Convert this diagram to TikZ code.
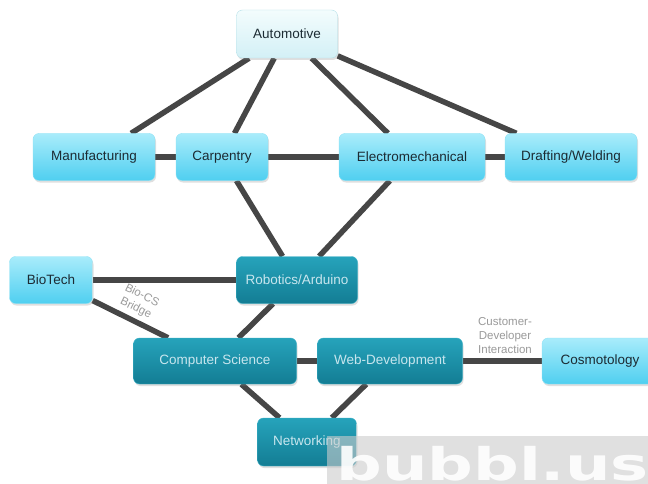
\documentclass[tikz,border=0pt]{standalone}
\usepackage{fontspec}
\setmainfont{Liberation Sans}
\newfontfamily\wmfont{DejaVu Sans}
\usetikzlibrary{shadows,backgrounds}
\definecolor{ltop}{HTML}{A9ECFB}
\definecolor{lbot}{HTML}{4FCFF0}
\definecolor{lbrd}{HTML}{8FE2F5}
\definecolor{atop}{HTML}{F3FCFD}
\definecolor{abot}{HTML}{D3F0F6}
\definecolor{abrd}{HTML}{B5E0E8}
\definecolor{dtop}{HTML}{26A3BB}
\definecolor{dbot}{HTML}{137D94}
\definecolor{dbrd}{HTML}{3FB3C8}
\definecolor{dtext}{HTML}{C8E6EE}
\definecolor{ltext}{HTML}{1C2B33}
\definecolor{edgec}{HTML}{464646}
\definecolor{lblc}{HTML}{9A9A9A}
\tikzset{
  box/.style={rounded corners=6pt, minimum height=47pt, inner sep=0pt,
    font=\fontsize{13.5}{15}\selectfont,
    drop shadow={opacity=0.25, shadow xshift=1pt, shadow yshift=-2pt}},
  lightbox/.style={box, top color=ltop, bottom color=lbot, draw=lbrd, text=ltext},
  autobox/.style={box, top color=atop, bottom color=abot, draw=abrd, text=ltext},
  darkbox/.style={box, top color=dtop, bottom color=dbot, draw=dbrd, text=dtext},
  conn/.style={line width=5.5pt, draw=edgec},
  lbl/.style={text=lblc, font=\fontsize{11.5}{14}\selectfont, align=center, inner sep=1pt}
}
\begin{document}
\begin{tikzpicture}[x=1pt, y=-1pt]
\useasboundingbox (0,0) rectangle (648,484);

\node[autobox, minimum width=101pt, minimum height=48pt] (auto) at (287,34) {Automotive};
\node[lightbox, minimum width=122pt] (manu) at (94,157) {Manufacturing};
\node[lightbox, minimum width=92pt] (carp) at (222,157) {Carpentry};
\node[lightbox, minimum width=146pt] (elec) at (412,157) {Electromechanical};
\node[lightbox, minimum width=132pt] (draf) at (571,157) {Drafting/Welding};
\node[lightbox, minimum width=83pt] (bio) at (51,280) {BioTech};
\node[darkbox, minimum width=121pt] (robo) at (297,280) {Robotics/Arduino};
\node[darkbox, minimum width=163pt, minimum height=46pt] (cs) at (215,361) {Computer Science};
\node[darkbox, minimum width=145pt, minimum height=46pt] (web) at (390,361) {Web-Development};
\node[lightbox, minimum width=116pt, minimum height=46pt] (cosm) at (600,361) {Cosmotology};
\node[darkbox, minimum width=99pt, minimum height=48pt] (net) at (307,442) {Networking};

\begin{scope}[on background layer]
\fill[white] (0,0) rectangle (648,484);
\draw[conn] (auto) -- (manu);
\draw[conn] (auto) -- (carp);
\draw[conn] (auto) -- (elec);
\draw[conn] (auto) -- (draf);
\draw[conn] (manu) -- (carp);
\draw[conn] (carp) -- (elec);
\draw[conn] (elec) -- (draf);
\draw[conn] (carp) -- (robo);
\draw[conn] (elec) -- (robo);
\draw[conn] (bio) -- (robo);
\draw[conn] (bio) -- node[lbl, sloped, above=3pt, pos=0.5] {Bio-CS\\Bridge} (cs);
\draw[conn] (robo) -- (cs);
\draw[conn] (cs) -- (web);
\draw[conn] (web) -- node[lbl, above=4pt, pos=0.535] {Customer-\\Developer\\Interaction} (cosm);
\draw[conn] (cs) -- (net);
\draw[conn] (web) -- (net);
\end{scope}

\fill[gray!40, opacity=0.6] (327,436) rectangle (648,484);
\node[anchor=base west, inner sep=0pt, text=white, opacity=0.9, xscale=1.42,
  font=\wmfont\bfseries\fontsize{45}{45}\selectfont] (wm) at (336,480) {bubbl.us};
\end{tikzpicture}
\end{document}
